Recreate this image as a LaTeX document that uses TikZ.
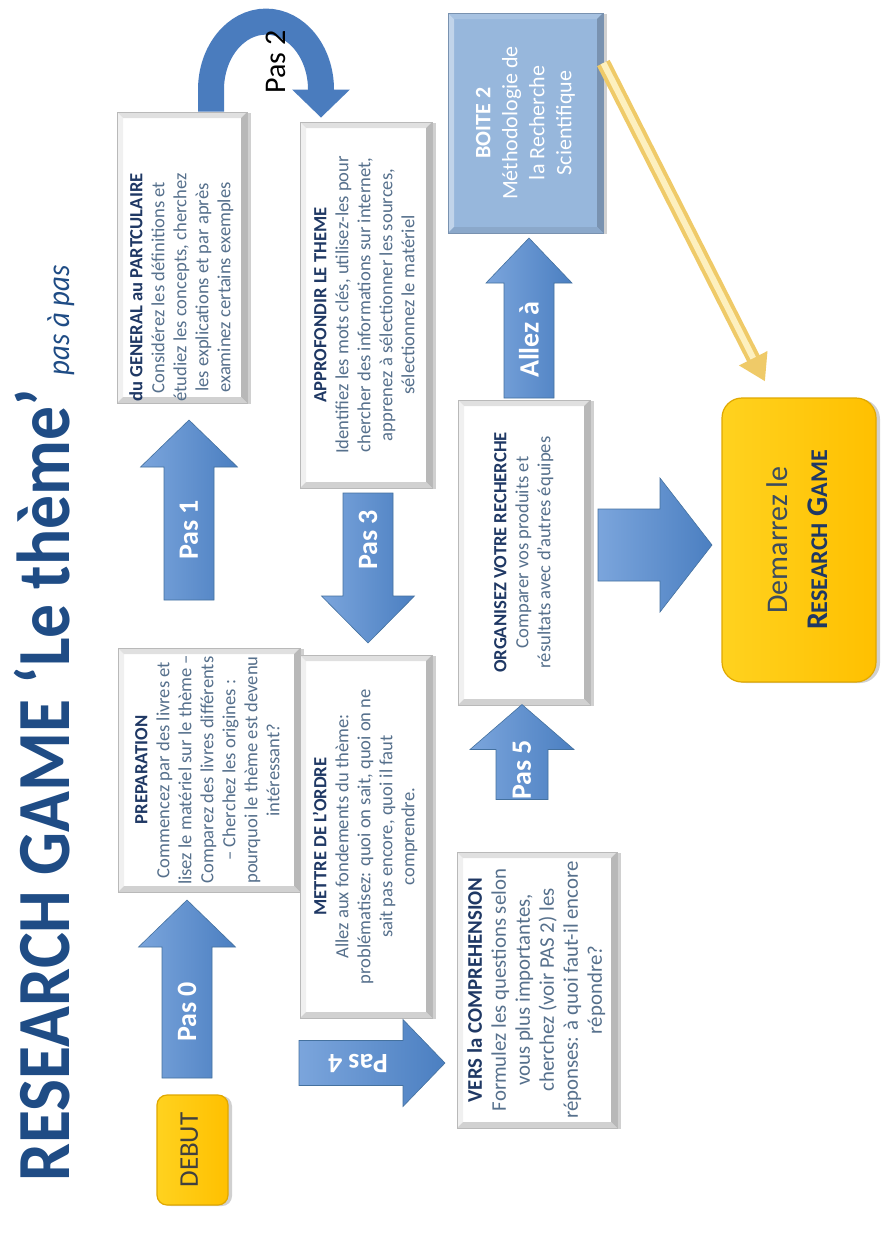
\documentclass[tikz,border=0pt]{standalone}
\usepackage{fontspec}
\setmainfont{Carlito}
\newfontfamily\titlefont[FakeStretch=0.9]{Carlito}
\usepackage{graphicx}
\usetikzlibrary{shadows,arrows.meta}

\definecolor{titleblue}{HTML}{1F4C85}
\definecolor{headnavy}{HTML}{1F3864}
\definecolor{bodyblue}{HTML}{56708C}
\definecolor{arrowlight}{HTML}{7BA5DC}
\definecolor{arrowdark}{HTML}{4B7FC1}
\definecolor{arrowedge}{HTML}{44719F}
\definecolor{arcblue}{HTML}{4A7CBE}
\definecolor{boxblue}{HTML}{97B7DC}
\definecolor{gold}{HTML}{FFC000}
\definecolor{goldlight}{HTML}{FFD21F}
\definecolor{goldedge}{HTML}{E0A800}
\definecolor{paleyellow}{HTML}{FDF0BF}
\definecolor{yellowedge}{HTML}{EFCA68}
\definecolor{slate}{HTML}{3C4C5E}

% text set bottom-to-top inside an upright frame
\newcommand\rottext[1]{\rotatebox{90}{\begin{tabular}{@{}c@{}}#1\end{tabular}}}
\newcommand\hd[1]{\textbf{\color{headnavy}#1}}

\tikzset{
  % four bevel facets: left, top, right, bottom
  bevel/.style n args={4}{path picture={
    \coordinate (bvnw) at (path picture bounding box.north west);
    \coordinate (bvne) at (path picture bounding box.north east);
    \coordinate (bvsw) at (path picture bounding box.south west);
    \coordinate (bvse) at (path picture bounding box.south east);
    \fill[#1] (bvsw) -- (bvnw) -- ([shift={(3pt,-3pt)}]bvnw) -- ([shift={(3pt,3pt)}]bvsw) -- cycle;
    \fill[#2] (bvnw) -- (bvne) -- ([shift={(-3pt,-3pt)}]bvne) -- ([shift={(3pt,-3pt)}]bvnw) -- cycle;
    \fill[#3] (bvne) -- (bvse) -- ([shift={(-3pt,3pt)}]bvse) -- ([shift={(-3pt,-3pt)}]bvne) -- cycle;
    \fill[#4] (bvse) -- (bvsw) -- ([shift={(3pt,3pt)}]bvsw) -- ([shift={(-3pt,3pt)}]bvse) -- cycle;
  }},
  card/.style={draw=gray!55, line width=0.4pt, fill=white, inner sep=0pt,
    drop shadow={shadow xshift=2pt, shadow yshift=-0.5pt, opacity=0.3, fill=black!60},
    bevel={black!6}{black!12}{black!28}{black!18},
    font=\fontsize{9.3}{11}\selectfont, text=bodyblue},
  bluecard/.style={draw=boxblue!80!black, line width=0.4pt, fill=boxblue, inner sep=0pt,
    drop shadow={shadow xshift=2pt, shadow yshift=-0.5pt, opacity=0.3, fill=black!60},
    bevel={boxblue!60!white}{boxblue!85!white}{boxblue!80!black}{boxblue!92!black},
    font=\fontsize{11}{13.5}\selectfont, text=white},
  goldcard/.style={draw=goldedge, line width=0.6pt, left color=goldlight, right color=gold,
    inner sep=0pt,
    drop shadow={shadow xshift=2pt, shadow yshift=-0.5pt, opacity=0.3, fill=black!60}},
  arrowfill/.style={left color=arrowlight, right color=arrowdark, draw=arrowedge, line width=0.3pt},
  arrowlabel/.style={text=white, font=\fontsize{14}{14}\selectfont\bfseries, inner sep=0pt},
  % block arrow pointing along local +x: length, shaft width, head width, head length
  pics/blockarrow/.style n args={4}{code={
    \path[pic actions] ({-#1/2},{-#2/2}) -- ({#1/2-#4},{-#2/2}) -- ({#1/2-#4},{-#3/2})
      -- ({#1/2},0) -- ({#1/2-#4},{#3/2}) -- ({#1/2-#4},{#2/2}) -- ({-#1/2},{#2/2}) -- cycle;
  }},
}

\begin{document}
\begin{tikzpicture}[x=0.5pt, y=-0.5pt]
\useasboundingbox (0,0) rectangle (880,1242);
\fill[white] (0,0) rectangle (880,1242);

% title
\node[rotate=90, anchor=base west, inner sep=0pt, text=titleblue,
      font=\titlefont\fontsize{37.5}{40}\selectfont\bfseries] (title) at (69,1182)
  {RESEARCH GAME ‘Le thème’\hspace{7pt}{\fontsize{16}{16}\selectfont\mdseries\itshape pas à pas}};

% steps
\node[goldcard, rounded corners=5pt, minimum width=35.5pt, minimum height=55pt,
      font=\fontsize{13.5}{13.5}\selectfont, text=black!75] (debut) at (192.5,1150) {\rottext{DEBUT}};

\node[card, minimum width=91pt, minimum height=122pt] (prep) at (209,770)
  {\rottext{\hd{PREPARATION}\\
    Commencez par des livres et\\
    lisez le matériel sur le thème –\\
    Comparez des livres différents\\
    – Cherchez les origines :\\
    pourquoi le thème est devenu\\
    intéressant?}};

\node[card, minimum width=65pt, minimum height=145.5pt] (gen) at (182,257.5)
  {\rotatebox{90}{\begin{tabular}{@{}c@{}}\multicolumn{1}{@{}l@{}}{\hd{du GENERAL au PARTCULAIRE}}\\
    Considérez les définitions et\\
    étudiez les concepts, cherchez\\
    les explications et par après\\
    examinez certains exemples\end{tabular}\hspace{30pt}}};

\node[card, minimum width=66pt, minimum height=183pt] (appro) at (366,305)
  {\rottext{\hd{APPROFONDIR LE THEME}\\
    Identifiez les mots clés, utilisez-les pour\\
    chercher des informations sur internet,\\
    apprenez à sélectionner les sources,\\
    sélectionnez le matériel}};

\node[card, minimum width=66pt, minimum height=181.5pt] (mettre) at (366,836.5)
  {\rottext{\hd{METTRE DE L’ORDRE}\\
    Allez aux fondements du thème:\\
    problématisez: quoi on sait, quoi on ne\\
    sait pas encore, quoi il faut\\
    comprendre.}};

\node[card, minimum width=80pt, minimum height=138pt, font=\fontsize{10.4}{12}\selectfont] (vers) at (537,990)
  {\rottext{\hd{VERS la COMPREHENSION}\\
    Formulez les questions selon\\
    vous plus importantes,\\
    cherchez (voir PAS 2) les\\
    réponses: à quoi faut-il encore\\
    répondre?}};

\node[card, minimum width=66pt, minimum height=152.5pt] (org) at (524,552.5)
  {\rottext{\hd{ORGANISEZ VOTRE RECHERCHE}\\
    Comparer vos produits et\\
    résultats avec d’autres équipes}};

\node[bluecard, minimum width=77.5pt, minimum height=110pt] (boite) at (525.5,123)
  {\rottext{\textbf{BOITE 2}\\Méthodologie de\\la Recherche\\Scientifique}};

\node[goldcard, rounded corners=10pt, minimum width=77pt, minimum height=142pt,
      font=\fontsize{15}{20}\selectfont, text=slate] (dem) at (799,540)
  {\rottext{Demarrez le\\
    \textbf{\color{headnavy}R{\fontsize{12}{12}\selectfont ESEARCH} G{\fontsize{12}{12}\selectfont AME}}}};

% block arrows between the steps
\pic[rotate=90, arrowfill] at (187,989) {blockarrow={178}{50}{97}{47}};
\node[arrowlabel, rotate=90] (pas0) at (187,1012) {Pas 0};

\pic[rotate=90, arrowfill] at (189,510) {blockarrow={180}{50}{97}{47}};
\node[arrowlabel, rotate=90] (pas1) at (189,530) {Pas 1};

\pic[rotate=-90, arrowfill] at (368,568) {blockarrow={150}{50}{93}{47}};
\node[arrowlabel, rotate=90] (pas3) at (368,540) {Pas 3};

\pic[arrowfill] at (372,1063) {blockarrow={146}{45}{87}{42}};
\node[arrowlabel, rotate=180] (pas4) at (358,1063) {Pas 4};

\pic[rotate=90, arrowfill] at (522,752) {blockarrow={95}{52}{104}{45}};
\node[arrowlabel, rotate=90] (pas5) at (522,770) {Pas 5};

\pic[rotate=90, arrowfill] at (529,318) {blockarrow={160}{50}{86}{45}};
\node[arrowlabel, rotate=90] (allez) at (529,340) {Allez à};

\pic[arrowfill] at (655,545) {blockarrow={114}{72}{134}{52}};

% curved step 2
\draw[arcblue, line width=13pt, -{Triangle[width=28pt,length=14pt]}]
  ([xshift=14.5pt]gen.north) -- ++(0,-22)
  arc[start angle=180, end angle=360, x radius=55, y radius=68]
  -- ([xshift=-22.5pt,yshift=2pt]appro.north);
\node[rotate=90, font=\fontsize{15}{15}\selectfont, inner sep=0pt] (pas2) at (276,62) {Pas 2};

% link from the methodology box to the start of the game
\draw[yellowedge, line width=7pt, -{Triangle[width=15pt,length=13pt]}]
  ([yshift=30pt]boite.east) -- ([xshift=-17pt,yshift=8pt]dem.north);
\draw[paleyellow, line width=3pt, shorten >=13pt]
  ([yshift=30pt]boite.east) -- ([xshift=-17pt,yshift=8pt]dem.north);
\end{tikzpicture}
\end{document}
